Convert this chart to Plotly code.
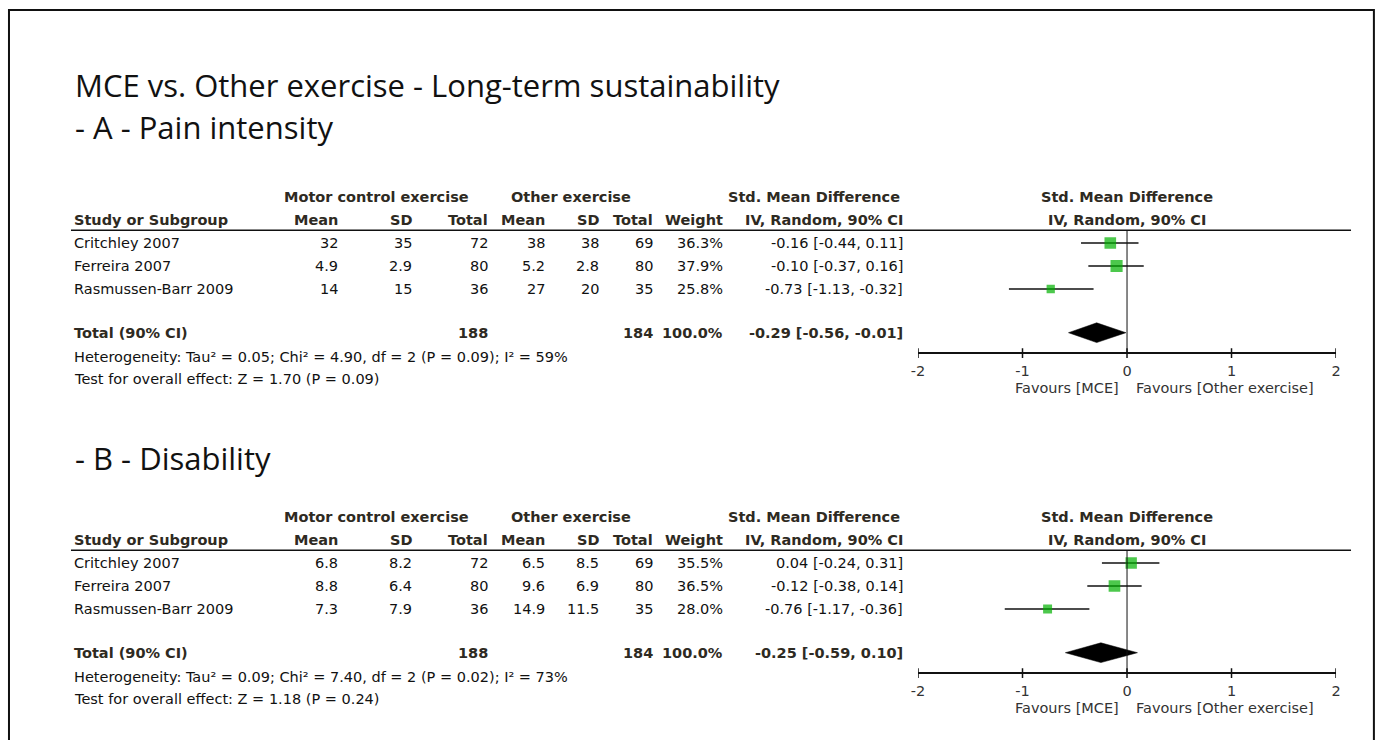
import plotly.graph_objects as go

# ---------------- data ----------------
studies = ["Critchley 2007", "Ferreira 2007", "Rasmussen-Barr 2009"]

# A - Pain intensity
a_mce_mean = [32, 4.9, 14]
a_mce_sd = [35, 2.9, 15]
a_mce_n = [72, 80, 36]
a_oth_mean = [38, 5.2, 27]
a_oth_sd = [38, 2.8, 20]
a_oth_n = [69, 80, 35]
a_weight = [36.3, 37.9, 25.8]
a_smd = [-0.16, -0.10, -0.73]
a_lo = [-0.44, -0.37, -1.13]
a_hi = [0.11, 0.16, -0.32]
a_total = {"n_mce": 188, "n_oth": 184, "smd": -0.29, "lo": -0.56, "hi": -0.01}
a_het = "Heterogeneity: Tau² = 0.05; Chi² = 4.90, df = 2 (P = 0.09); I² = 59%"
a_test = "Test for overall effect: Z = 1.70 (P = 0.09)"

# B - Disability
b_mce_mean = [6.8, 8.8, 7.3]
b_mce_sd = [8.2, 6.4, 7.9]
b_mce_n = [72, 80, 36]
b_oth_mean = [6.5, 9.6, 14.9]
b_oth_sd = [8.5, 6.9, 11.5]
b_oth_n = [69, 80, 35]
b_weight = [35.5, 36.5, 28.0]
b_smd = [0.04, -0.12, -0.76]
b_lo = [-0.24, -0.38, -1.17]
b_hi = [0.31, 0.14, -0.36]
b_total = {"n_mce": 188, "n_oth": 184, "smd": -0.25, "lo": -0.59, "hi": 0.10}
b_het = "Heterogeneity: Tau² = 0.09; Chi² = 7.40, df = 2 (P = 0.02); I² = 73%"
b_test = "Test for overall effect: Z = 1.18 (P = 0.24)"

x_ticks = [-2, -1, 0, 1, 2]

# ---------------- layout helpers ----------------
W, H = 1380, 740
ROW = 23.0            # pixel height of a table row
TABLE_FONT = "DejaVu Sans, Liberation Sans, Arial, sans-serif"
TABLE_SIZE = 14.5
TITLE_FONT = "Open Sans, Noto Sans, sans-serif"
TITLE_SIZE = 31
HEAD_COL = "#2e2a22"
BODY_COL = "#111111"
GREEN = "#00b000"
XSPREAD = 1.0088      # horizontal spread of the layout about the page centre


def px(x):
    return min((W / 2 + (x - W / 2) * XSPREAD) / W, 0.9992)


def py(y):
    return 1 - y / H


# vertical row coordinates used on each panel's y axis
R_HEAD1, R_HEAD2, R_LINE = -2.0, -1.0, -0.55
R_TOTAL, R_HET, R_TEST = 3.9, 4.95, 5.9
R_AXIS, R_FAV = 4.8, 6.3
R_TOP, R_BOT = -3.2, 6.8

# right edges of the table columns (pixels)
COL_MEAN1, COL_SD1, COL_N1 = 338, 412, 488
COL_MEAN2, COL_SD2, COL_N2 = 545, 599, 653
COL_W, COL_CI = 723, 903
NAME_X = 72

fig = go.Figure()
annotations = []
shapes = []


def num(v):
    return f"{v:g}"


def ci_text(m, lo, hi):
    return f"{m:.2f} [{lo:.2f}, {hi:.2f}]"


def add_panel(idx, base_px, mce_mean, mce_sd, mce_n, oth_mean, oth_sd, oth_n,
              weight, smd, lo, hi, total, het, test):
    xa = "x" if idx == 1 else f"x{idx}"
    ya = "y" if idx == 1 else f"y{idx}"

    # y axis domain: pixel base_px corresponds to row 0
    top_px = base_px + R_TOP * ROW
    bot_px = base_px + R_BOT * ROW
    axis_px = base_px + R_AXIS * ROW
    lay_x = "xaxis" if idx == 1 else f"xaxis{idx}"
    lay_y = "yaxis" if idx == 1 else f"yaxis{idx}"
    fig.layout[lay_y] = dict(domain=[py(bot_px), py(top_px)], range=[R_BOT, R_TOP],
                             visible=False, fixedrange=True)
    fig.layout[lay_x] = dict(domain=[px(917), px(1335)], range=[-2, 2],
                             anchor="free", position=py(axis_px),
                             showline=True, linecolor="#111", linewidth=1.5,
                             showgrid=False, zeroline=False, ticks="",
                             ticklabelstandoff=4,
                             tickvals=x_ticks, ticktext=[f"{t:g}" for t in x_ticks],
                             tickfont=dict(family=TABLE_FONT, size=TABLE_SIZE, color="#333"),
                             fixedrange=True)

    rows = list(range(len(studies)))

    # confidence-interval whiskers
    wx, wy = [], []
    for r, l, h in zip(rows, lo, hi):
        wx += [l, h, None]
        wy += [r, r, None]
    fig.add_trace(go.Scatter(x=wx, y=wy, xaxis=xa, yaxis=ya, mode="lines",
                             line=dict(color="#111", width=1.5),
                             hoverinfo="skip", showlegend=False))
    # study estimates, square size follows weight
    fig.add_trace(go.Scatter(x=smd, y=rows, xaxis=xa, yaxis=ya, mode="markers",
                             marker=dict(symbol="square", color=GREEN,
                                         size=[w * 0.32 for w in weight],
                                         line=dict(width=0)),
                             showlegend=False))
    # pooled estimate diamond
    hd = 0.43
    fig.add_trace(go.Scatter(
        x=[total["lo"], total["smd"], total["hi"], total["smd"], total["lo"]],
        y=[R_TOTAL, R_TOTAL - hd, R_TOTAL, R_TOTAL + hd, R_TOTAL],
        xaxis=xa, yaxis=ya, mode="lines", fill="toself", fillcolor="#000",
        line=dict(color="#000", width=0.5), hoverinfo="skip", showlegend=False))

    # line of no effect
    shapes.append(dict(type="line", xref=xa, yref=ya, x0=0, x1=0, y0=R_LINE, y1=R_AXIS,
                       line=dict(color="#111", width=1)))
    # crossing tick marks on the effect axis
    for t in x_ticks:
        shapes.append(dict(type="line", xref=xa, yref=ya, x0=t, x1=t,
                           y0=R_AXIS - 0.22, y1=R_AXIS + 0.2,
                           line=dict(color="#111", width=1.5)))
    # rule below the column headings
    shapes.append(dict(type="line", xref="paper", yref=ya, x0=px(70), x1=px(1350),
                       y0=R_LINE, y1=R_LINE, line=dict(color="#111", width=1.5)))

    def txt(x, y, s, anchor="right", bold=False, color=BODY_COL, xref="paper"):
        annotations.append(dict(
            x=x, y=y, xref=xref, yref=ya, text=f"<b>{s}</b>" if bold else s,
            xanchor=anchor, yanchor="middle", showarrow=False, borderpad=0,
            font=dict(family=TABLE_FONT, size=TABLE_SIZE, color=color)))

    # column headings
    txt(px(376), R_HEAD1, "Motor control exercise", "center", True, HEAD_COL)
    txt(px(570), R_HEAD1, "Other exercise", "center", True, HEAD_COL)
    txt(px(813), R_HEAD1, "Std. Mean Difference", "center", True, HEAD_COL)
    txt(0, R_HEAD1, "Std. Mean Difference", "center", True, HEAD_COL, xref=xa)
    txt(px(NAME_X), R_HEAD2, "Study or Subgroup", "left", True, HEAD_COL)
    for col, lab in [(COL_MEAN1, "Mean"), (COL_SD1, "SD"), (COL_N1, "Total"),
                     (COL_MEAN2, "Mean"), (COL_SD2, "SD"), (COL_N2, "Total"),
                     (COL_W, "Weight"), (COL_CI, "IV, Random, 90% CI")]:
        txt(px(col), R_HEAD2, lab, "right", True, HEAD_COL)
    txt(0, R_HEAD2, "IV, Random, 90% CI", "center", True, HEAD_COL, xref=xa)

    # study rows
    for r in rows:
        txt(px(NAME_X), r, studies[r], "left")
        txt(px(COL_MEAN1), r, num(mce_mean[r]))
        txt(px(COL_SD1), r, num(mce_sd[r]))
        txt(px(COL_N1), r, num(mce_n[r]))
        txt(px(COL_MEAN2), r, num(oth_mean[r]))
        txt(px(COL_SD2), r, num(oth_sd[r]))
        txt(px(COL_N2), r, num(oth_n[r]))
        txt(px(COL_W), r, f"{weight[r]:.1f}%")
        txt(px(COL_CI), r, ci_text(smd[r], lo[r], hi[r]))

    # totals
    txt(px(NAME_X), R_TOTAL, "Total (90% CI)", "left", True, HEAD_COL)
    txt(px(COL_N1), R_TOTAL, num(total["n_mce"]), "right", True, HEAD_COL)
    txt(px(COL_N2), R_TOTAL, num(total["n_oth"]), "right", True, HEAD_COL)
    txt(px(COL_W), R_TOTAL, f"{sum(weight):.1f}%", "right", True, HEAD_COL)
    txt(px(COL_CI), R_TOTAL, ci_text(total["smd"], total["lo"], total["hi"]),
        "right", True, HEAD_COL)
    txt(px(NAME_X), R_HET, het, "left")
    txt(px(NAME_X), R_TEST, test, "left")

    # favours labels
    txt(-0.07, R_FAV, "Favours [MCE]", "right", color="#333", xref=xa)
    txt(0.075, R_FAV, "Favours [Other exercise]", "left", color="#333", xref=xa)


add_panel(1, 243, a_mce_mean, a_mce_sd, a_mce_n, a_oth_mean, a_oth_sd, a_oth_n,
          a_weight, a_smd, a_lo, a_hi, a_total, a_het, a_test)
add_panel(2, 563, b_mce_mean, b_mce_sd, b_mce_n, b_oth_mean, b_oth_sd, b_oth_n,
          b_weight, b_smd, b_lo, b_hi, b_total, b_het, b_test)

# titles
for text, ypix in [("MCE vs. Other exercise - Long-term sustainability", 85),
                   ("- A - Pain intensity", 127),
                   ("- B - Disability", 458)]:
    annotations.append(dict(x=px(73), y=py(ypix), xref="paper", yref="paper", text=text,
                            xanchor="left", yanchor="middle", showarrow=False,
                            borderpad=0,
                            font=dict(family=TITLE_FONT, size=TITLE_SIZE, color="#111")))

# outer frame
shapes.append(dict(type="rect", xref="paper", yref="paper",
                   x0=px(8), x1=px(1376), y0=py(760), y1=py(10),
                   line=dict(color="#111", width=2), fillcolor="rgba(0,0,0,0)"))

fig.update_layout(width=W, height=H, margin=dict(l=0, r=0, t=0, b=0),
                  paper_bgcolor="white", plot_bgcolor="white",
                  annotations=annotations, shapes=shapes, showlegend=False)

# keep the figure flush with the page edges
fig.write_html("out.html", config={"displayModeBar": False},
               post_script="document.body.style.margin='0';"
                           "document.body.style.overflow='hidden';")
